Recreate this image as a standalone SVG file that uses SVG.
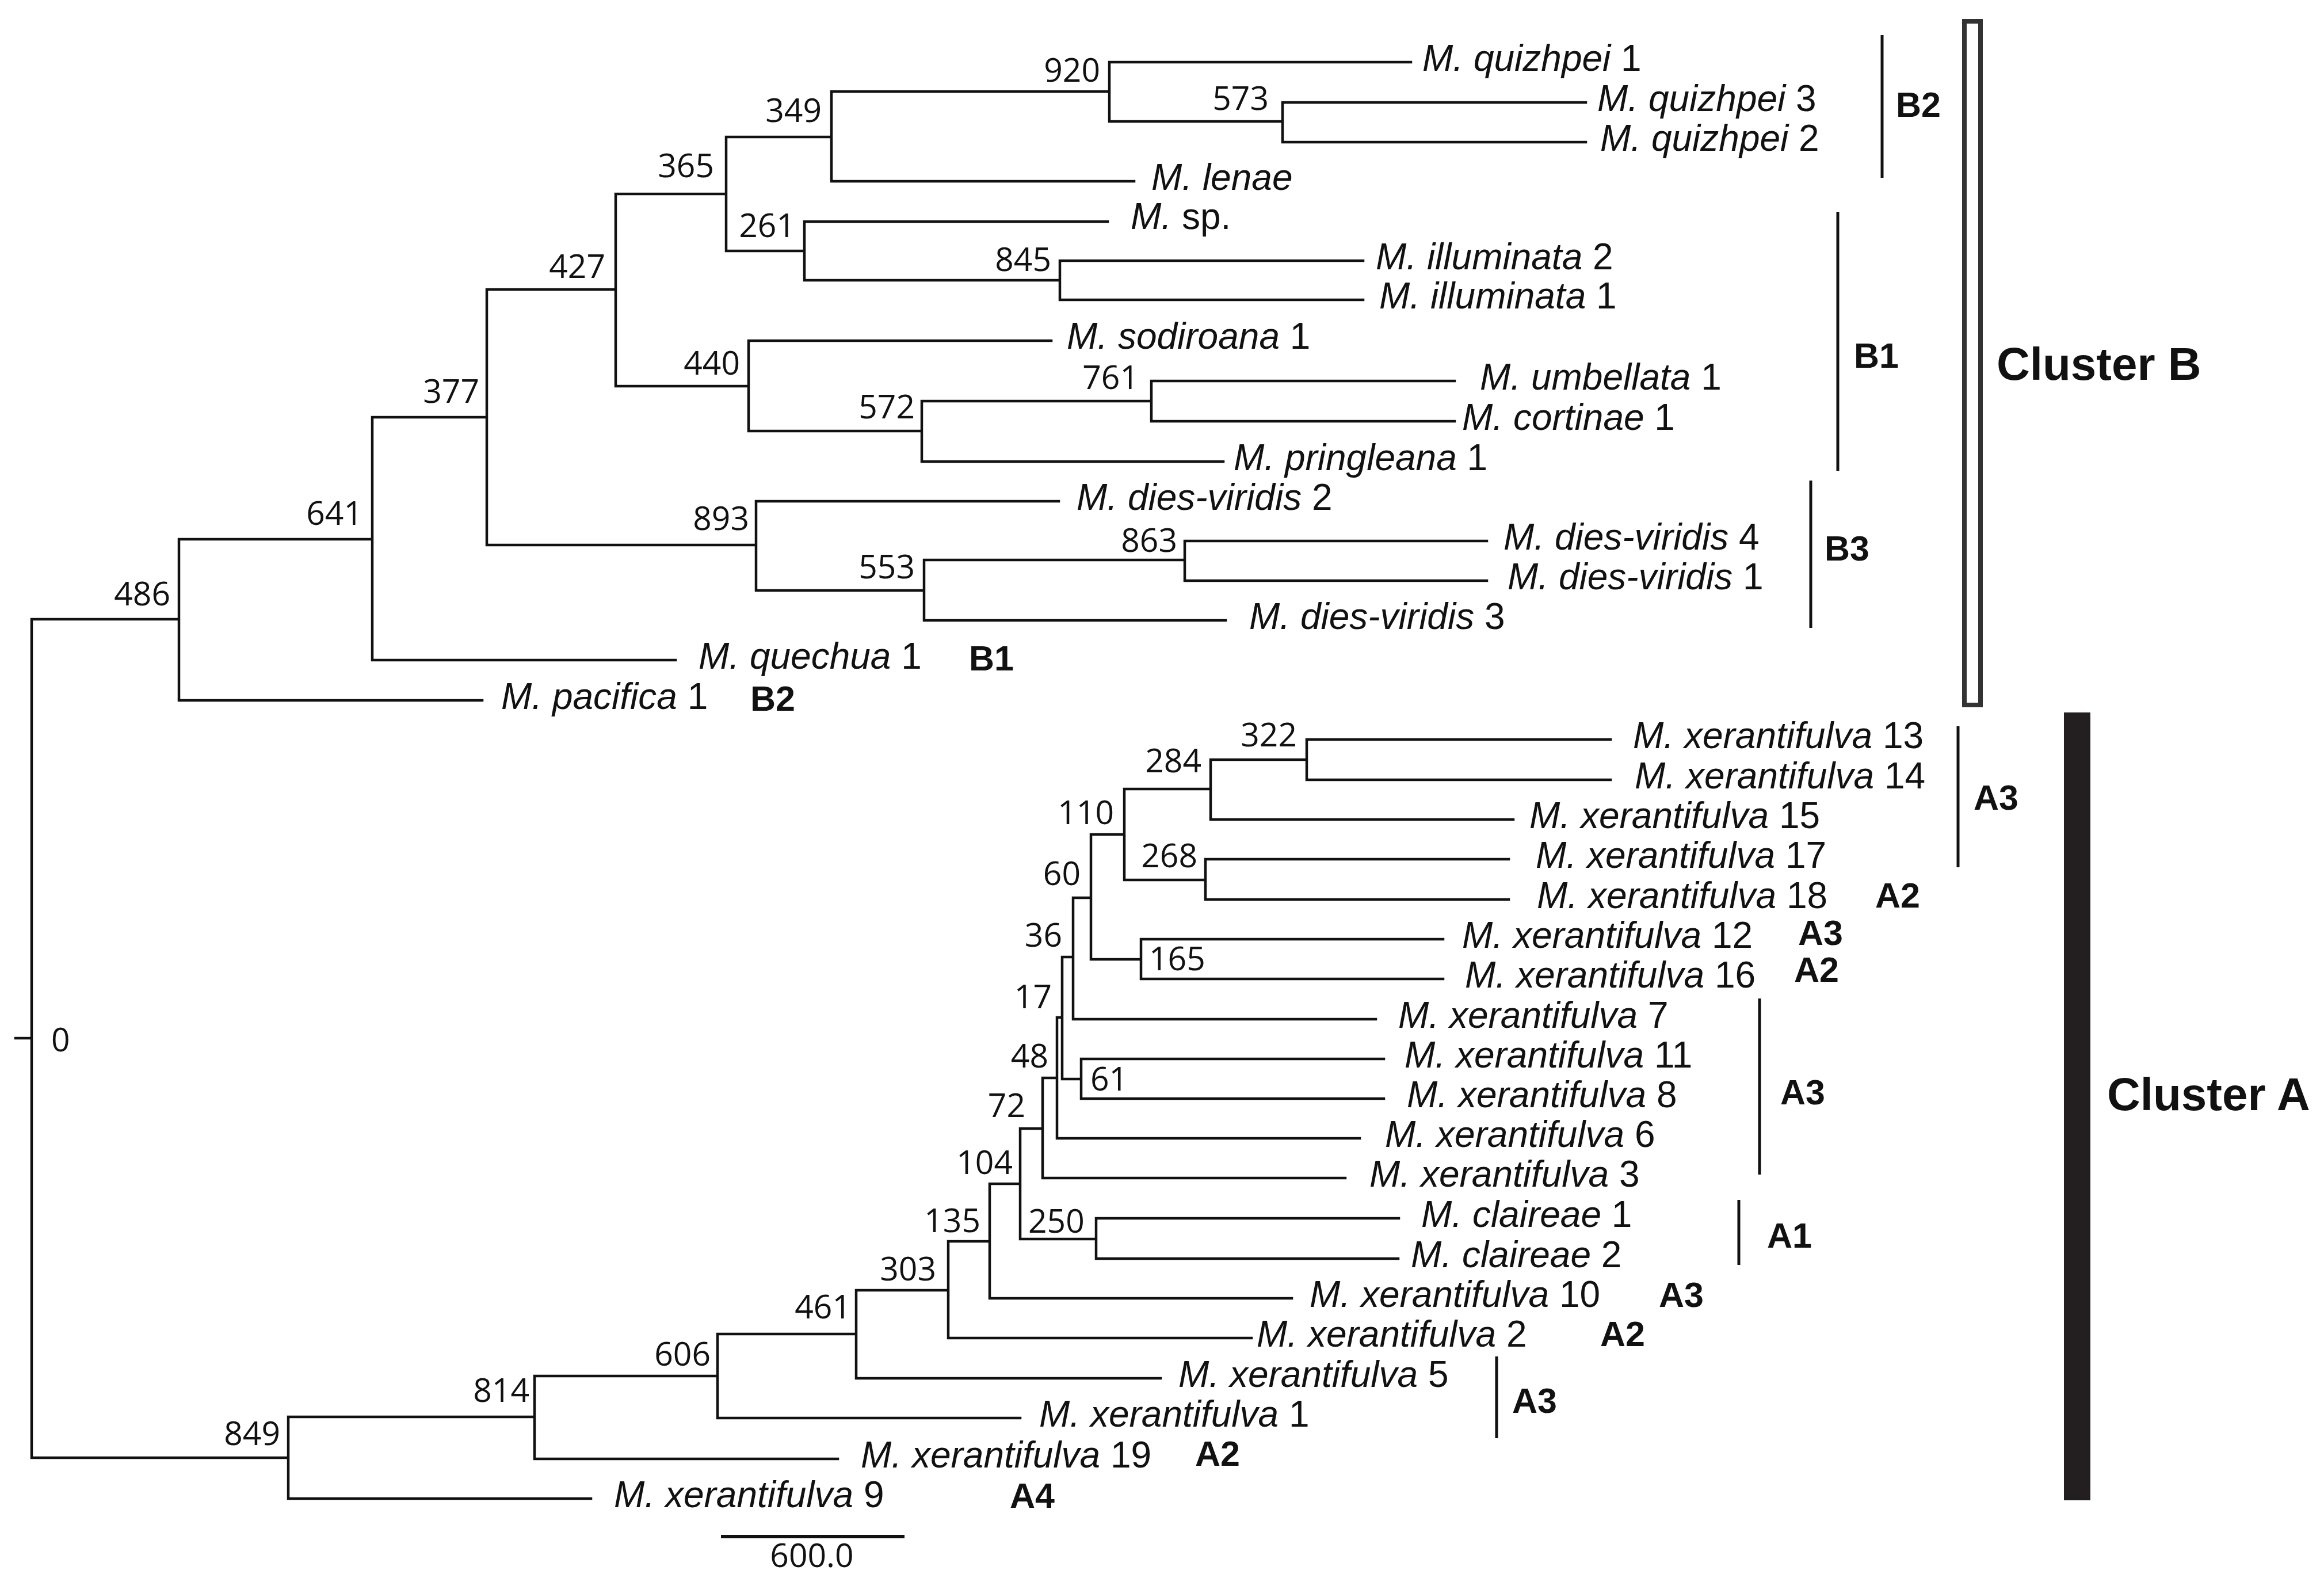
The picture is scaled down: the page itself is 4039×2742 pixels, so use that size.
<svg xmlns="http://www.w3.org/2000/svg" width="4039" height="2742" viewBox="0 0 4039 2742">
<style>
.br{fill:none;stroke:#111;stroke-width:4.5;stroke-linecap:square}
.bk{fill:none;stroke:#111;stroke-width:5}
.n{font-family:"Open Sans","Liberation Sans",sans-serif;font-size:57px;fill:#111;text-anchor:end}
.ns{font-family:"Open Sans","Liberation Sans",sans-serif;font-size:57px;fill:#111}
.t{font-family:"Liberation Sans",Arial,sans-serif;font-size:64px;fill:#111}
.i{font-style:italic}
.b{font-family:"Liberation Sans",Arial,sans-serif;font-size:61px;font-weight:bold;fill:#111}
.c{font-family:"Liberation Sans",Arial,sans-serif;font-size:80px;font-weight:bold;fill:#111}
</style>
<rect width="4039" height="2742" fill="#fff"/>
<g id="connectors">
<path class="br" d="M27,1804H55 M55,1076V2533
M55,1076H311 M311,937V1217
M311,937H647 M647,725V1147
M647,725H846 M846,503V947
M846,503H1070 M1070,337V671
M1070,337H1262 M1262,238V436
M1262,238H1445 M1445,159V315
M1445,159H1928 M1928,108V211
M1928,211H2229 M2229,178V247
M1262,436H1398 M1398,385V487
M1398,487H1842 M1842,453V521
M1070,671H1301 M1301,592V749
M1301,749H1602 M1602,697V802
M1602,697H2001 M2001,662V732
M846,947H1314 M1314,871V1026
M1314,1026H1606 M1606,973V1078
M1606,973H2059 M2059,940V1009
M55,2533H501 M501,2462V2604
M501,2462H929 M929,2391V2535
M929,2391H1247 M1247,2318V2464
M1247,2318H1488 M1488,2242V2395
M1488,2242H1648 M1648,2157V2325
M1648,2157H1720 M1720,2057V2256
M1720,2057H1773 M1773,1961V2153
M1773,2153H1905 M1905,2117V2187
M1773,1961H1812 M1812,1873V2047
M1812,1873H1837 M1837,1768V1978
M1837,1768H1846 M1846,1663V1875
M1846,1875H1879 M1879,1840V1909
M1846,1663H1865 M1865,1560V1771
M1865,1560H1896 M1896,1450V1667
M1896,1450H1954 M1954,1371V1529
M1954,1371H2104 M2104,1320V1424
M2104,1320H2271 M2271,1285V1355
M1954,1529H2095 M2095,1493V1563
M1896,1667H1983 M1983,1632V1701
M1928,108H2452 M2229,178H2756 M2229,247H2756 M1445,315H1971
M1398,385H1925 M1842,453H2369 M1842,521H2369 M1301,592H1827
M2001,662H2528 M2001,732H2528 M1602,802H2126 M1314,871H1840
M2059,940H2584 M2059,1009H2584 M1606,1078H2130 M647,1147H1174 M311,1217H838
M2271,1285H2799 M2271,1355H2799 M2104,1424H2630 M2095,1493H2622 M2095,1563H2622
M1983,1632H2508 M1983,1701H2508 M1865,1771H2391 M1879,1840H2405 M1879,1909H2405
M1837,1978H2363 M1812,2047H2338 M1905,2117H2431 M1905,2187H2430 M1720,2256H2245
M1648,2325H2175 M1488,2395H2017 M1247,2464H1773 M929,2535H1456 M501,2604H1027"/>
</g>
<g id="node-labels">
<text class="n" x="1912" y="142">920</text>
<text class="n" x="1428" y="212">349</text>
<text class="n" x="2205" y="191">573</text>
<text class="n" x="1241" y="308">365</text>
<text class="n" x="1382" y="412">261</text>
<text class="n" x="1827" y="471">845</text>
<text class="n" x="1052" y="483">427</text>
<text class="n" x="1286" y="651">440</text>
<text class="n" x="1979" y="676">761</text>
<text class="n" x="833" y="700">377</text>
<text class="n" x="1590" y="727">572</text>
<text class="n" x="630" y="912">641</text>
<text class="n" x="1302" y="921">893</text>
<text class="n" x="2046" y="959">863</text>
<text class="n" x="1590" y="1005">553</text>
<text class="n" x="296" y="1052">486</text>
<text class="ns" x="89" y="1827">0</text>
<text class="n" x="2254" y="1297">322</text>
<text class="n" x="2088" y="1342">284</text>
<text class="n" x="1936" y="1432">110</text>
<text class="n" x="2081" y="1507">268</text>
<text class="n" x="1878" y="1538">60</text>
<text class="n" x="1846" y="1645">36</text>
<text class="ns" x="1997" y="1686">165</text>
<text class="n" x="1828" y="1752">17</text>
<text class="n" x="1822" y="1855">48</text>
<text class="ns" x="1895" y="1895">61</text>
<text class="n" x="1782" y="1941">72</text>
<text class="n" x="1760" y="2040">104</text>
<text class="n" x="1704" y="2141">135</text>
<text class="ns" x="1787" y="2142">250</text>
<text class="n" x="1627" y="2225">303</text>
<text class="n" x="1479" y="2291">461</text>
<text class="n" x="1235" y="2373">606</text>
<text class="n" x="920" y="2436">814</text>
<text class="n" x="487" y="2511">849</text>
</g>
<g id="taxa-B">
<text class="t" x="2472" y="123"><tspan class="i">M. quizhpei</tspan> 1</text>
<text class="t" x="2776" y="193"><tspan class="i">M. quizhpei</tspan> 3</text>
<text class="t" x="2781" y="262"><tspan class="i">M. quizhpei</tspan> 2</text>
<text class="t" x="2001" y="330"><tspan class="i">M. lenae</tspan></text>
<text class="t" x="1965" y="398"><tspan class="i">M.</tspan> sp.</text>
<text class="t" x="2391" y="468"><tspan class="i">M. illuminata</tspan> 2</text>
<text class="t" x="2397" y="536"><tspan class="i">M. illuminata</tspan> 1</text>
<text class="t" x="1854" y="606"><tspan class="i">M. sodiroana</tspan> 1</text>
<text class="t" x="2572" y="677"><tspan class="i">M. umbellata</tspan> 1</text>
<text class="t" x="2541" y="747"><tspan class="i">M. cortinae</tspan> 1</text>
<text class="t" x="2144" y="817"><tspan class="i">M. pringleana</tspan> 1</text>
<text class="t" x="1871" y="886"><tspan class="i">M. dies-viridis</tspan> 2</text>
<text class="t" x="2613" y="955"><tspan class="i">M. dies-viridis</tspan> 4</text>
<text class="t" x="2620" y="1024"><tspan class="i">M. dies-viridis</tspan> 1</text>
<text class="t" x="2171" y="1093"><tspan class="i">M. dies-viridis</tspan> 3</text>
<text class="t" x="1214" y="1162"><tspan class="i">M. quechua</tspan> 1</text>
<text class="t" x="871" y="1232"><tspan class="i">M. pacifica</tspan> 1</text>
</g>
<g id="taxa-A">
<text class="t" x="2838" y="1300"><tspan class="i">M. xerantifulva</tspan> 13</text>
<text class="t" x="2841" y="1370"><tspan class="i">M. xerantifulva</tspan> 14</text>
<text class="t" x="2658" y="1439"><tspan class="i">M. xerantifulva</tspan> 15</text>
<text class="t" x="2669" y="1508"><tspan class="i">M. xerantifulva</tspan> 17</text>
<text class="t" x="2671" y="1578"><tspan class="i">M. xerantifulva</tspan> 18</text>
<text class="t" x="2541" y="1647"><tspan class="i">M. xerantifulva</tspan> 12</text>
<text class="t" x="2546" y="1716"><tspan class="i">M. xerantifulva</tspan> 16</text>
<text class="t" x="2430" y="1786"><tspan class="i">M. xerantifulva</tspan> 7</text>
<text class="t" x="2441" y="1855"><tspan class="i">M. xerantifulva</tspan> 11</text>
<text class="t" x="2445" y="1924"><tspan class="i">M. xerantifulva</tspan> 8</text>
<text class="t" x="2407" y="1993"><tspan class="i">M. xerantifulva</tspan> 6</text>
<text class="t" x="2380" y="2062"><tspan class="i">M. xerantifulva</tspan> 3</text>
<text class="t" x="2470" y="2132"><tspan class="i">M. claireae</tspan> 1</text>
<text class="t" x="2452" y="2202"><tspan class="i">M. claireae</tspan> 2</text>
<text class="t" x="2276" y="2271"><tspan class="i">M. xerantifulva</tspan> 10</text>
<text class="t" x="2184" y="2340"><tspan class="i">M. xerantifulva</tspan> 2</text>
<text class="t" x="2048" y="2410"><tspan class="i">M. xerantifulva</tspan> 5</text>
<text class="t" x="1806" y="2479"><tspan class="i">M. xerantifulva</tspan> 1</text>
<text class="t" x="1496" y="2550"><tspan class="i">M. xerantifulva</tspan> 19</text>
<text class="t" x="1067" y="2619"><tspan class="i">M. xerantifulva</tspan> 9</text>
</g>
<g id="group-labels">
<text class="b" x="1684" y="1165">B1</text>
<text class="b" x="1304" y="1235">B2</text>
<text class="b" x="3259" y="1577">A2</text>
<text class="b" x="3125" y="1642">A3</text>
<text class="b" x="3118" y="1706">A2</text>
<text class="b" x="2883" y="2271">A3</text>
<text class="b" x="2781" y="2339">A2</text>
<text class="b" x="2077" y="2547">A2</text>
<text class="b" x="1755" y="2620">A4</text>
</g>
<g id="bracket-B2"><path class="bk" d="M3271,61V309"/><text class="b" x="3295" y="203">B2</text></g>
<g id="bracket-B1"><path class="bk" d="M3194,368V818"/><text class="b" x="3222" y="639">B1</text></g>
<g id="bracket-B3"><path class="bk" d="M3147,835V1091"/><text class="b" x="3171" y="974">B3</text></g>
<g id="bracket-A3-upper"><path class="bk" d="M3403,1262V1507"/><text class="b" x="3430" y="1407">A3</text></g>
<g id="bracket-A3-mid"><path class="bk" d="M3058,1735V2041"/><text class="b" x="3094" y="1919">A3</text></g>
<g id="bracket-A1"><path class="bk" d="M3022,2085V2198"/><text class="b" x="3071" y="2168">A1</text></g>
<g id="bracket-A3-lower"><path class="bk" d="M2601,2357V2499"/><text class="b" x="2628" y="2455">A3</text></g>
<g id="cluster-B"><rect x="3414" y="37" width="28" height="1188" fill="#fff" stroke="#333" stroke-width="8"/><text class="c" x="3470" y="660">Cluster B</text></g>
<g id="cluster-A"><rect x="3587" y="1238" width="46" height="1369" fill="#231f20"/><text class="c" x="3662" y="1929">Cluster A</text></g>
<g id="scale-bar"><path d="M1253,2670H1572" stroke="#111" stroke-width="6"/><text class="ns" x="1411" y="2723" text-anchor="middle">600.0</text></g>
</svg>
